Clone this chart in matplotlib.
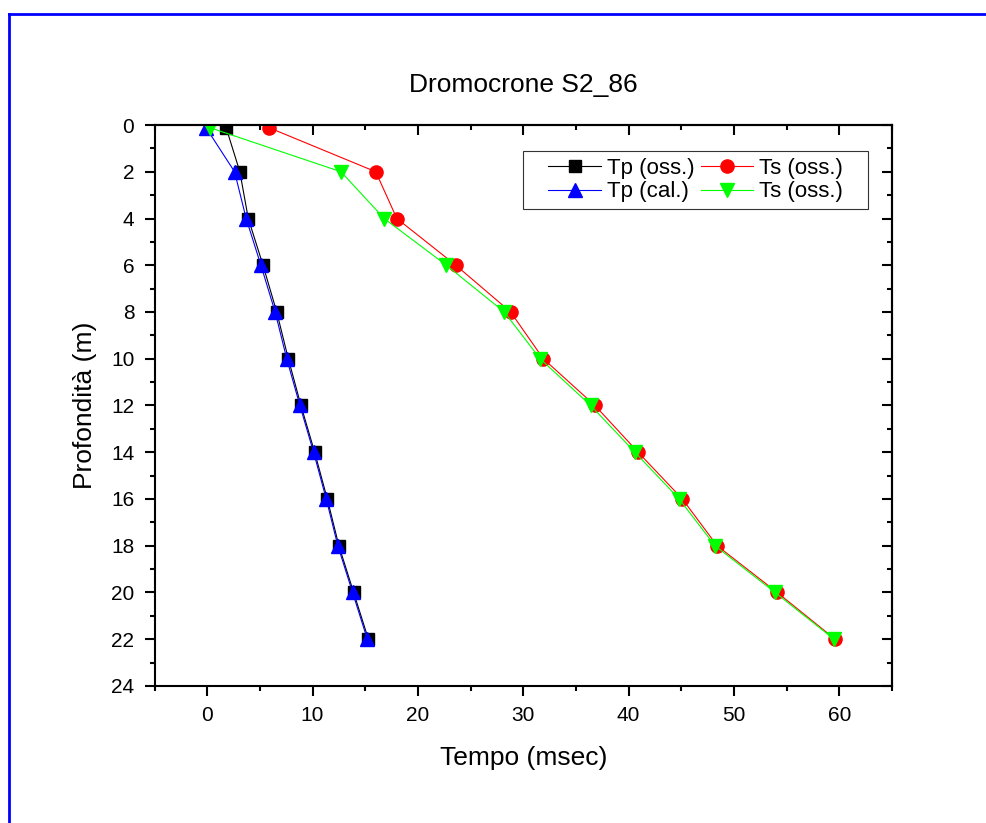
import matplotlib

matplotlib.use("Agg")
import matplotlib.pyplot as plt
from matplotlib.lines import Line2D
from matplotlib.patches import Rectangle
from matplotlib.ticker import MultipleLocator

plt.rcParams["font.family"] = ["Liberation Sans", "DejaVu Sans"]

# depth (m) and travel times (msec)
depth = [0.12, 2, 4, 6, 8, 10, 12, 14, 16, 18, 20, 22]
tp_oss = [1.8, 3.1, 3.9, 5.3, 6.6, 7.7, 8.9, 10.2, 11.4, 12.5, 13.9, 15.3]
tp_cal = [-0.1, 2.6, 3.7, 5.1, 6.45, 7.55, 8.8, 10.1, 11.3, 12.4, 13.8, 15.2]
ts_oss = [5.9, 16.0, 18.0, 23.6, 28.8, 31.9, 36.8, 40.9, 45.1, 48.4, 54.1, 59.6]
ts_oss2 = [0.3, 12.7, 16.8, 22.7, 28.2, 31.6, 36.4, 40.6, 44.8, 48.2, 53.9, 59.5]

W, H = 986, 823
fig = plt.figure(figsize=(W / 100, H / 100), dpi=100)
ax = fig.add_axes([0.1567, 0.1665, 0.9047 - 0.1567, 0.8481 - 0.1665])

# blue page frame (top and left edges visible)
fig.add_artist(Line2D([0.0088, 1.0], [1 - 13.5 / H] * 2, color="#0000ff",
                      lw=2.0, transform=fig.transFigure))
fig.add_artist(Line2D([0.0088, 0.0088], [0.0, 1 - 13.5 / H], color="#0000ff",
                      lw=2.0, transform=fig.transFigure))

ax.plot(tp_oss, depth, "-s", color="black", lw=0.8, ms=8, label="Tp (oss.)")
ax.plot(tp_cal, depth, "-^", color="#0000ff", lw=0.8, ms=10.5, label="Tp (cal.)")
ax.plot(ts_oss, depth, "-o", color="#ff0000", lw=0.8, ms=9.5, label="Ts (oss.)")
ax.plot(ts_oss2, depth, "-v", color="#00ff00", lw=0.8, ms=10.5, label="Ts (oss.)")

ax.set_xlim(-5, 65)
ax.set_ylim(24, 0)
ax.xaxis.set_major_locator(MultipleLocator(10))
ax.xaxis.set_minor_locator(MultipleLocator(5))
ax.yaxis.set_major_locator(MultipleLocator(2))
ax.yaxis.set_minor_locator(MultipleLocator(1))

for s in ax.spines.values():
    s.set_linewidth(1.5)
ax.tick_params(which="both", direction="out", width=1.5, labelsize=15,
               top=False, right=False)
ax.tick_params(which="major", length=7.5, pad=7)
ax.tick_params(which="minor", length=3.8)

# inward ticks on the top and right edges
for side in ("top", "right"):
    sec = ax.secondary_xaxis("top") if side == "top" else ax.secondary_yaxis("right")
    axis = sec.xaxis if side == "top" else sec.yaxis
    axis.set_major_locator(MultipleLocator(10 if side == "top" else 2))
    axis.set_minor_locator(MultipleLocator(5 if side == "top" else 1))
    sec.tick_params(which="both", direction="in", width=1.5,
                    labeltop=False, labelright=False)
    sec.tick_params(which="major", length=7.5)
    sec.tick_params(which="minor", length=3.8)
    sec.spines[side].set_linewidth(1.5)

ax.set_title("Dromocrone S2_86", fontsize=19, pad=24)
ax.set_xlabel("Tempo (msec)", fontsize=19, labelpad=15)
ax.set_ylabel("Profondità (m)", fontsize=19, labelpad=10)

# legend box is drawn separately: it has wider side padding than top/bottom
ax.add_patch(Rectangle((523 / W, 1 - 209 / H), 345 / W, 58 / H,
                       transform=fig.transFigure, facecolor="white",
                       edgecolor="#333333", lw=0.8, zorder=4, clip_on=False))
leg = ax.legend(ncol=2, fontsize=16, loc="center right",
                bbox_to_anchor=(843 / W, 1 - 180 / H),
                bbox_transform=fig.transFigure, borderaxespad=0,
                frameon=False, borderpad=0,
                handlelength=2.35, handletextpad=0.27, columnspacing=0.3,
                labelspacing=0.12)
leg.set_zorder(5)

fig.savefig("out.png", dpi=100)
